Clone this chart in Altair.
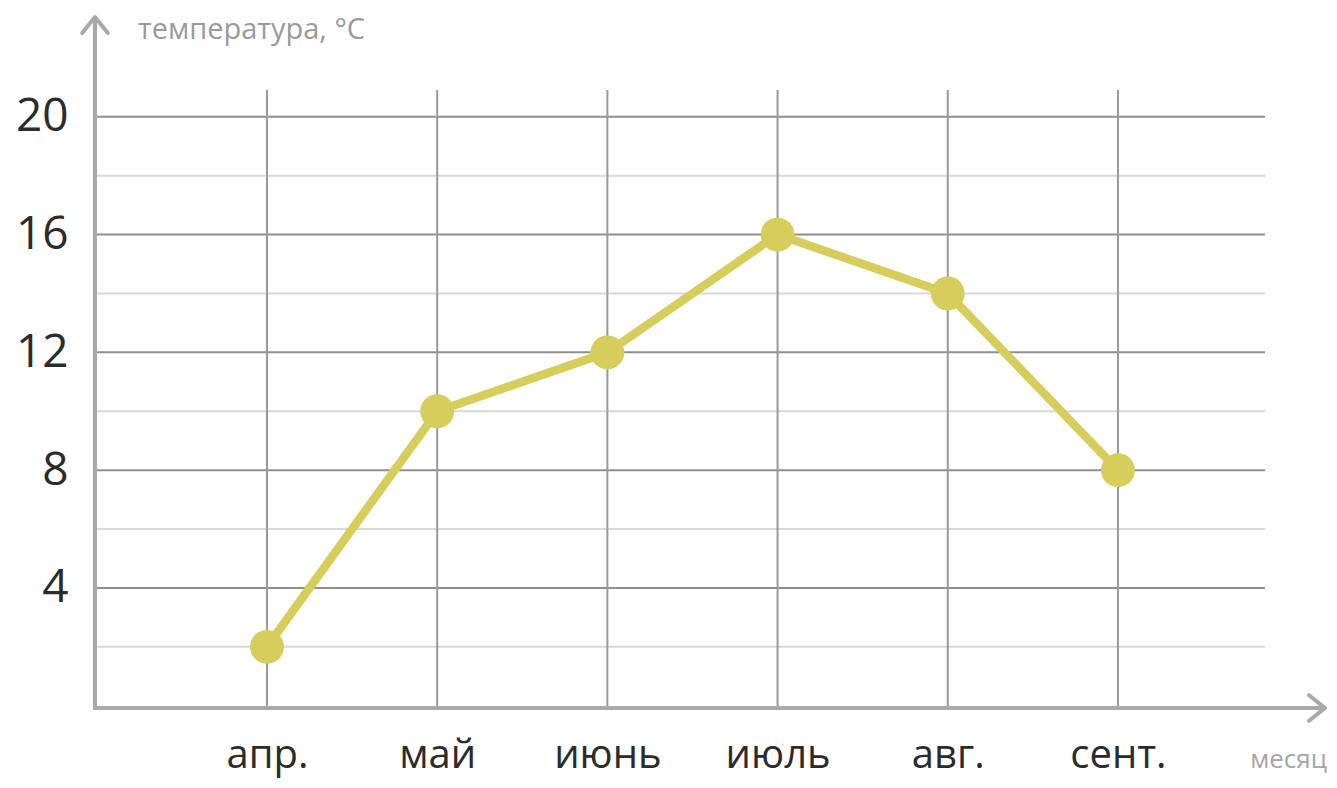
import json
import altair as alt
import pandas as pd

months = ["апр.", "май", "июнь", "июль", "авг.", "сент."]
temps = [2, 10, 12, 16, 14, 8]
y_major = [4, 8, 12, 16, 20]
y_minor = [2, 6, 10, 14, 18]
y_title = "температура, °C"
x_title = "месяц"

FONT = "Open Sans"
LINE_COLOR = "#d6cd5a"
AXIS_COLOR = "#a9a9a9"

W, H = 1170, 618
xdom = [-1.0106, 5.864]
ydom = [-0.077, 20.91]

df = pd.DataFrame({"idx": list(range(len(months))), "month": months, "temp": temps})
major_df = pd.DataFrame({"v": y_major})
minor_df = pd.DataFrame({"v": y_minor})
vert_df = pd.DataFrame({"idx": list(range(len(months)))})
one = pd.DataFrame({"a": [0]})

xscale = alt.Scale(domain=xdom, nice=False, zero=False)
yscale = alt.Scale(domain=ydom, nice=False, zero=False)

label_expr = json.dumps(months, ensure_ascii=False) + "[datum.value]"

xaxis = alt.Axis(values=list(range(len(months))), labelExpr=label_expr, grid=False,
                 domain=False, ticks=False, tickSize=0, labelFont=FONT, labelFontSize=40,
                 labelColor="#2b2b2b", labelPadding=59, labelBaseline="alphabetic", title=None)
yaxis = alt.Axis(values=y_major, grid=False, domain=False, ticks=False, tickSize=0,
                 labelFont=FONT, labelFontSize=46, labelColor="#2b2b2b", labelPadding=27,
                 labelBaseline="middle", title=None)

minor = alt.Chart(minor_df).mark_rule(color="#d9d9d9", strokeWidth=2).encode(
    y=alt.Y("v:Q", scale=yscale, axis=yaxis))
major = alt.Chart(major_df).mark_rule(color="#8f8f8f", strokeWidth=2).encode(
    y=alt.Y("v:Q", scale=yscale, axis=yaxis))
vert = alt.Chart(vert_df).mark_rule(color="#9a9a9a", strokeWidth=2).encode(
    x=alt.X("idx:Q", scale=xscale, axis=xaxis))

yaxis_line = alt.Chart(one).mark_rule(color=AXIS_COLOR, strokeWidth=4, clip=False).encode(
    x=alt.value(0), y=alt.value(-73), y2=alt.value(H + 2))
xaxis_line = alt.Chart(one).mark_rule(color=AXIS_COLOR, strokeWidth=4, clip=False).encode(
    y=alt.value(H), x=alt.value(-2), x2=alt.value(1230))

arrow_path = "M-0.8,1L0,0L0.8,1"
yarrow = alt.Chart(one).mark_point(shape=arrow_path, filled=False, size=1024, strokeWidth=4,
                                   color=AXIS_COLOR, opacity=1, clip=False,
                                   strokeCap="round", strokeJoin="round").encode(
    x=alt.value(0), y=alt.value(-73))
xarrow = alt.Chart(one).mark_point(shape=arrow_path, filled=False, size=1024, strokeWidth=4,
                                   color=AXIS_COLOR, opacity=1, angle=90, clip=False,
                                   strokeCap="round", strokeJoin="round").encode(
    x=alt.value(1230), y=alt.value(H))

ytitle = alt.Chart(one).mark_text(text=y_title, font=FONT, fontSize=29, color="#9a9a9a",
                                  align="left", baseline="middle").encode(
    x=alt.value(43), y=alt.value(-60))
xtitle = alt.Chart(one).mark_text(text=x_title, font=FONT, fontSize=26, color="#a5a5a5",
                                  align="right", baseline="middle").encode(
    x=alt.value(1232), y=alt.value(670))

line = alt.Chart(df).mark_line(color=LINE_COLOR, strokeWidth=8.5).encode(
    x=alt.X("idx:Q", scale=xscale, axis=xaxis), y=alt.Y("temp:Q", scale=yscale, axis=yaxis))
points = alt.Chart(df).mark_circle(color=LINE_COLOR, size=1150, opacity=1).encode(
    x=alt.X("idx:Q", scale=xscale, axis=xaxis), y=alt.Y("temp:Q", scale=yscale, axis=yaxis))

chart = alt.layer(minor, major, vert, line, points, yaxis_line, xaxis_line, yarrow, xarrow,
                  ytitle, xtitle).properties(
    width=W, height=H,
    background="white",
    autosize=alt.AutoSizeParams(type="none"),
    padding={"left": 87, "top": 82, "right": 64, "bottom": 72},
).configure_view(stroke=None, strokeWidth=0)

chart.save("out.html", embed_options={"renderer": "svg", "actions": False})
